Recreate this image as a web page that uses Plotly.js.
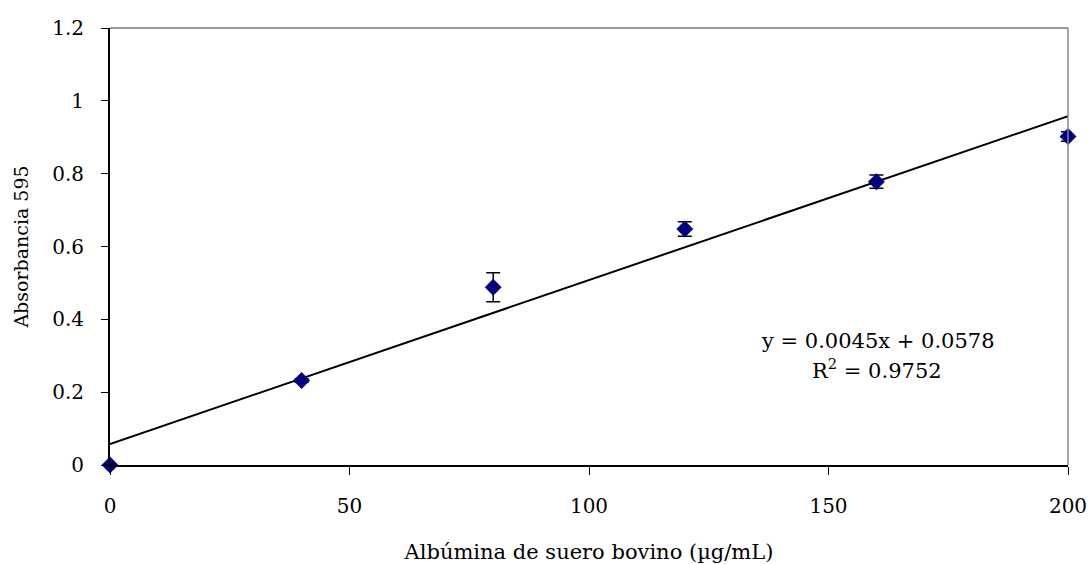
<!DOCTYPE html>
<html>
<head>
<meta charset="utf-8">
<script src="https://cdn.plot.ly/plotly-3.0.1.min.js"></script>
<style>html,body{margin:0;padding:0;background:#fff;}#chart{width:1090px;height:564px;}</style>
</head>
<body>
<div id="chart"></div>
<script>
const concentration = [0, 40, 80, 120, 160, 200];
const absorbance = [0.0, 0.232, 0.488, 0.648, 0.778, 0.902];
const errorValues = [0.0, 0.005, 0.04, 0.02, 0.018, 0.013];
const slope = 0.0045;
const intercept = 0.0578;
const trendX = [0, 200];
const equationText = "y = 0.0045x + 0.0578";
const r2Text = "R<sup>2</sup> = 0.9752";
const xTickVals = [0, 50, 100, 150, 200];
const yTickVals = [0, 0.2, 0.4, 0.6, 0.8, 1, 1.2];
const yTickText = ["0", "0.2", "0.4", "0.6", "0.8", "1", "1.2"];

const font = "DejaVu Serif, Liberation Serif, serif";

const trend = {
  x: trendX,
  y: trendX.map(v => slope * v + intercept),
  mode: 'lines',
  line: {color: '#000', width: 2},
  hoverinfo: 'skip',
  showlegend: false
};
const points = {
  x: concentration,
  y: absorbance,
  mode: 'markers',
  marker: {symbol: 'diamond', size: 13, color: '#000080'},
  error_y: {type: 'data', array: errorValues, visible: true, color: '#000', thickness: 1.5, width: 7},
  showlegend: false,
  cliponaxis: false
};

const layout = {
  width: 1090, height: 564,
  margin: {l: 110, r: 22, t: 28, b: 99},
  paper_bgcolor: '#fff', plot_bgcolor: '#fff',
  font: {family: font, size: 20, color: '#000'},
  showlegend: false,
  xaxis: {
    range: [0, 200], tickvals: xTickVals, ticks: 'outside', ticklen: 8, tickcolor: '#000', tickwidth: 1,
    showline: true, linecolor: '#000', linewidth: 2, showgrid: false, zeroline: false,
    ticklabelstandoff: 14,
    tickfont: {family: font, size: 20},
    title: {text: 'Albúmina de suero bovino (µg/mL)', font: {family: font, size: 21}, standoff: 30}
  },
  yaxis: {
    range: [0, 1.2], tickvals: yTickVals, ticktext: yTickText, ticks: 'outside', ticklen: 7, tickcolor: '#000', tickwidth: 1,
    showline: true, linecolor: '#000', linewidth: 2, showgrid: false, zeroline: false,
    ticklabelstandoff: 13,
    tickfont: {family: font, size: 20},
    title: {text: 'Absorbancia 595', font: {family: font, size: 19}, standoff: 19}
  },
  shapes: [
    {type: 'line', xref: 'paper', yref: 'paper', x0: 0, x1: 1, y0: 1, y1: 1, line: {color: '#777', width: 1.5}},
    {type: 'line', xref: 'paper', yref: 'paper', x0: 1, x1: 1, y0: 0, y1: 1, line: {color: '#888', width: 1.5}}
  ],
  annotations: [
    {x: 160.4, y: 0.340, xref: 'x', yref: 'y', text: equationText, showarrow: false, font: {family: font, size: 21}, xanchor: 'center'},
    {x: 160.1, y: 0.264, xref: 'x', yref: 'y', text: r2Text, showarrow: false, font: {family: font, size: 21}, xanchor: 'center'}
  ]
};

Plotly.newPlot('chart', [trend, points], layout, {displayModeBar: false, staticPlot: true});
</script>
</body>
</html>
